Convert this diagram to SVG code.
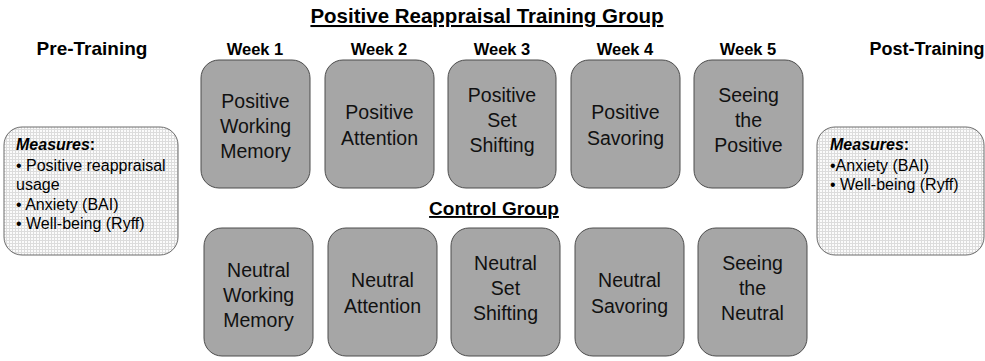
<svg xmlns="http://www.w3.org/2000/svg" width="985" height="361" viewBox="0 0 985 361">
  <defs>
    <pattern id="grid" width="3" height="3" patternUnits="userSpaceOnUse">
      <rect width="3" height="3" fill="#fbfbfb"/>
      <path d="M0 0.5H3M0.5 0V3" stroke="#dcdcdc" stroke-width="1"/>
    </pattern>
  </defs>
  <style>
    .hd { font-family: "Liberation Sans", Arial, sans-serif; font-weight: bold; fill: #000; text-anchor: middle; }
    .big { font-size: 19px; }
    .wk { font-size: 16.5px; }
    .ul { text-decoration: underline; }
    .box { fill: #a6a6a6; stroke: #4d4d4d; stroke-width: 1; }
    .bt { font-family: "Liberation Sans", Arial, sans-serif; font-size: 19.5px; fill: #111; text-anchor: middle; }
    .meas { fill: url(#grid); stroke: #6a6a6a; stroke-width: 1; }
    .mt { font-family: "Liberation Sans", Arial, sans-serif; font-size: 16px; fill: #000; }
  </style>
  <rect width="985" height="361" fill="#fff"/>

  <!-- headings -->
  <g id="headings">
    <text class="hd ul" x="487" y="23" font-size="20.5">Positive Reappraisal Training Group</text>
    <text class="hd big" x="92" y="55">Pre-Training</text>
    <text class="hd wk" x="255" y="55">Week 1</text>
    <text class="hd wk" x="379" y="55">Week 2</text>
    <text class="hd wk" x="502" y="55">Week 3</text>
    <text class="hd wk" x="625" y="55">Week 4</text>
    <text class="hd wk" x="748" y="55">Week 5</text>
    <text class="hd" x="927" y="55" font-size="18">Post-Training</text>
    <text class="hd big ul" x="494" y="215">Control Group</text>
  </g>

  <!-- pre-training measures -->
  <g id="pre-measures">
    <rect class="meas" x="4" y="127" width="174" height="128" rx="18"/>
    <text class="mt" x="16" y="150"><tspan font-weight="bold" font-style="italic">Measures</tspan><tspan font-weight="bold">:</tspan></text>
    <text class="mt" x="16" y="171">• Positive reappraisal</text>
    <text class="mt" x="16" y="190">usage</text>
    <text class="mt" x="16" y="210">• Anxiety (BAI)</text>
    <text class="mt" x="16" y="229">• Well-being (Ryff)</text>
  </g>

  <!-- post-training measures -->
  <g id="post-measures">
    <rect class="meas" x="817" y="127" width="167" height="128" rx="18"/>
    <text class="mt" x="830" y="150"><tspan font-weight="bold" font-style="italic">Measures</tspan><tspan font-weight="bold">:</tspan></text>
    <text class="mt" x="830" y="171">•Anxiety (BAI)</text>
    <text class="mt" x="830" y="190">• Well-being (Ryff)</text>
  </g>

  <!-- training group -->
  <g id="pos-week1">
    <rect class="box" x="201" y="60" width="109" height="128" rx="18"/>
    <text class="bt" x="255.5" y="108">Positive</text>
    <text class="bt" x="255.5" y="133">Working</text>
    <text class="bt" x="255.5" y="158">Memory</text>
  </g>
  <g id="pos-week2">
    <rect class="box" x="325" y="60" width="109" height="128" rx="18"/>
    <text class="bt" x="379.5" y="119">Positive</text>
    <text class="bt" x="379.5" y="145">Attention</text>
  </g>
  <g id="pos-week3">
    <rect class="box" x="448" y="60" width="108" height="128" rx="18"/>
    <text class="bt" x="502" y="102">Positive</text>
    <text class="bt" x="502" y="127">Set</text>
    <text class="bt" x="502" y="152">Shifting</text>
  </g>
  <g id="pos-week4">
    <rect class="box" x="571" y="60" width="109" height="128" rx="18"/>
    <text class="bt" x="625.5" y="119">Positive</text>
    <text class="bt" x="625.5" y="145">Savoring</text>
  </g>
  <g id="pos-week5">
    <rect class="box" x="694" y="60" width="109" height="128" rx="18"/>
    <text class="bt" x="748.5" y="102">Seeing</text>
    <text class="bt" x="748.5" y="127">the</text>
    <text class="bt" x="748.5" y="152">Positive</text>
  </g>

  <!-- control group -->
  <g id="neu-week1">
    <rect class="box" x="204" y="228" width="109" height="128" rx="18"/>
    <text class="bt" x="258.5" y="277">Neutral</text>
    <text class="bt" x="258.5" y="302">Working</text>
    <text class="bt" x="258.5" y="327">Memory</text>
  </g>
  <g id="neu-week2">
    <rect class="box" x="328" y="228" width="109" height="128" rx="18"/>
    <text class="bt" x="382.5" y="287">Neutral</text>
    <text class="bt" x="382.5" y="313">Attention</text>
  </g>
  <g id="neu-week3">
    <rect class="box" x="451" y="228" width="109" height="128" rx="18"/>
    <text class="bt" x="505.5" y="270">Neutral</text>
    <text class="bt" x="505.5" y="295">Set</text>
    <text class="bt" x="505.5" y="320">Shifting</text>
  </g>
  <g id="neu-week4">
    <rect class="box" x="575" y="228" width="109" height="128" rx="18"/>
    <text class="bt" x="629.5" y="287">Neutral</text>
    <text class="bt" x="629.5" y="313">Savoring</text>
  </g>
  <g id="neu-week5">
    <rect class="box" x="698" y="228" width="109" height="128" rx="18"/>
    <text class="bt" x="752.5" y="270">Seeing</text>
    <text class="bt" x="752.5" y="295">the</text>
    <text class="bt" x="752.5" y="320">Neutral</text>
  </g>

  <g id="connectors"/>
</svg>
